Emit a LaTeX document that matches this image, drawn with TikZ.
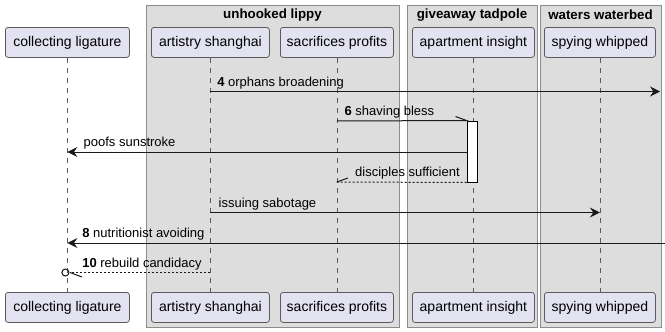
\documentclass[tikz,border=0pt]{standalone}
\usepackage{fontspec}
\setmainfont{Liberation Sans}
\usetikzlibrary{arrows.meta}
\definecolor{grpfill}{HTML}{DDDDDD}
\definecolor{grpline}{HTML}{8C8C8C}
\definecolor{partfill}{HTML}{E2E2F0}
\definecolor{partline}{HTML}{5B5B5B}
\begin{document}
\begin{tikzpicture}[x=0.75pt,y=-0.75pt,
  font=\fontsize{9.75pt}{11pt}\selectfont,
  grp/.style={draw=grpline, fill=grpfill, line width=0.7pt},
  grptitle/.style={font=\fontsize{10pt}{11pt}\selectfont\bfseries, inner sep=0pt},
  part/.style={draw=partline, fill=partfill, rounded corners=2pt, line width=0.6pt,
    font=\fontsize{10.5pt}{12pt}\selectfont,
    minimum height=22.5pt, inner sep=0pt, anchor=north west},
  life/.style={draw=partline, dash pattern=on 3.75pt off 3.75pt, line width=0.5pt},
  msg/.style={draw=black!90, line width=0.75pt},
  ret/.style={msg, dash pattern=on 1.5pt off 1.5pt},
  tip/.style={-{Stealth[length=7.5pt,width=7.5pt,inset=2.6pt]}},
  lbl/.style={anchor=south west, inner sep=0pt, yshift=1.8pt},
  act/.style={draw=black, fill=white, line width=0.75pt}]
\useasboundingbox (0,0) rectangle (665,332);

% group boxes
\path[grp] (146,5) rectangle (399,327);
\path[grp] (407,5) rectangle (537,327);
\path[grp] (540,5) rectangle (661,327);
\node[grptitle] (g1) at (272.5,15) {unhooked lippy};
\node[grptitle] (g2) at (472,15) {giveaway tadpole};
\node[grptitle] (g3) at (600.5,15) {waters waterbed};

% participants, top row
\node[part, minimum width=93pt]  (cT) at (5,27)   {collecting ligature};
\node[part, minimum width=88.5pt] (aT) at (151,27) {artistry shanghai};
\node[part, minimum width=84.75pt] (sT) at (280,27) {sacrifices profits};
\node[part, minimum width=91.5pt] (pT) at (412,27) {apartment insight};
\node[part, minimum width=83.25pt] (wT) at (544,27) {spying whipped};

% participants, bottom row
\node[part, minimum width=93pt]  (cB) at (5,292)   {collecting ligature};
\node[part, minimum width=88.5pt] (aB) at (151,292) {artistry shanghai};
\node[part, minimum width=84.75pt] (sB) at (280,292) {sacrifices profits};
\node[part, minimum width=91.5pt] (pB) at (412,292) {apartment insight};
\node[part, minimum width=83.25pt] (wB) at (544,292) {spying whipped};

% lifelines
\draw[life] (cT) -- (cB);
\draw[life] (aT) -- (aB);
\draw[life] (sT) -- (sB);
\draw[life] (pT) -- (pB);
\draw[life] (wT) -- (wB);

% activation bar on apartment insight
\node[act, minimum width=7.5pt, minimum height=45.75pt, inner sep=0pt] (act) at (472,151.5) {};

% message anchor points
\coordinate (m4a) at (aT.south |- 0,91.5);
\coordinate (m4b) at (660,91.5);
\coordinate (m6a) at (sT.south |- 0,121);
\coordinate (m6b) at (act.north west);
\coordinate (m7a) at (act.west |- 0,152);
\coordinate (m7b) at (cT.south |- 0,152);
\coordinate (m8a) at (act.south west);
\coordinate (m8b) at (sT.south |- 0,182);
\coordinate (m9a) at (aT.south |- 0,212.5);
\coordinate (m9b) at (wT.south |- 0,212.5);
\coordinate (m10a) at (665,243);
\coordinate (m10b) at (cT.south |- 0,243);
\coordinate (m11a) at (aT.south |- 0,272.5);
\coordinate (m11b) at (70,272.5);
\coordinate (m11c) at (cT.south |- 0,272.5);

% messages
\draw[msg, tip] (m4a) -- (m4b);
\node[lbl] (l4) at ([xshift=5pt]m4a) {\textbf{4} orphans broadening};

\draw[msg] (m6a) -- (m6b) -- ++(-11,-4);
\node[lbl] (l6) at ([xshift=5.6pt]m6a) {\textbf{6} shaving bless};

\draw[msg, tip] (m7a) -- (m7b);
\node[lbl] (l7) at ([xshift=12pt]m7b) {poofs sunstroke};

\draw[ret] (m8a) -- (m8b);
\draw[msg] (m8b) -- ++(11,-4);
\node[lbl] (l8) at ([xshift=13.5pt]m8b) {disciples sufficient};

\draw[msg, tip] (m9a) -- (m9b);
\node[lbl] (l9) at ([xshift=6pt]m9a) {issuing sabotage};

\draw[msg, tip] (m10a) -- (m10b);
\node[lbl] (l10) at ([xshift=11pt]m10b) {\textbf{8} nutritionist avoiding};

\draw[ret] (m11a) -- (m11b);
\draw[msg] (m11b) -- ++(12,4.5);
\draw[msg] ([xshift=-1.5pt]m11c) circle[radius=3.5];
\node[lbl] (l11) at ([xshift=11pt]m11c) {\textbf{10} rebuild candidacy};
\end{tikzpicture}
\end{document}
